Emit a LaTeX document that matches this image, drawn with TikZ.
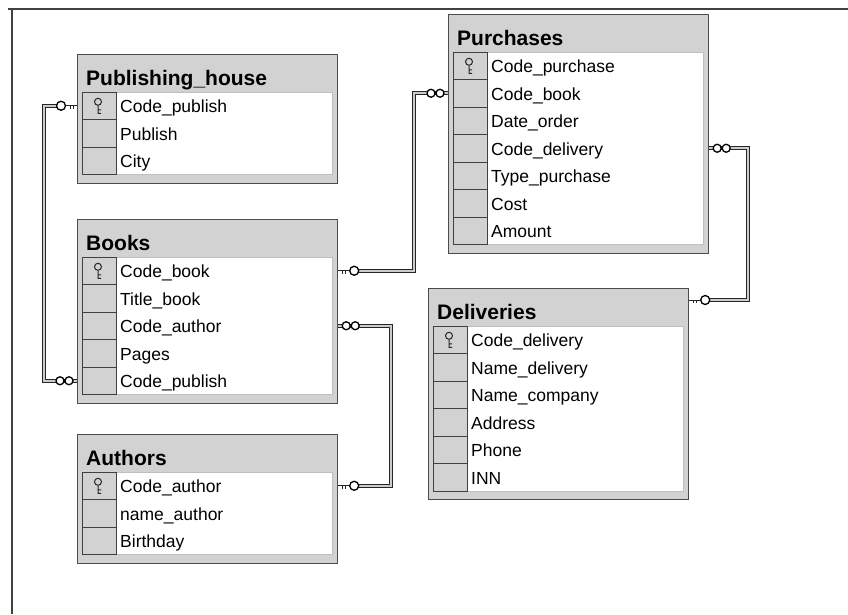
\documentclass[tikz,border=0pt]{standalone}
\usepackage{fontspec}
\setmainfont{Liberation Sans}
\begin{document}
\begin{tikzpicture}[x=1pt,y=-1pt,
  tbl/.style={draw=black!70,line width=1.2pt,fill=gray!35,inner sep=0pt,minimum width=260pt,anchor=north west},
  ttl/.style={anchor=base west,inner sep=0pt,font=\bfseries\fontsize{21}{24}\selectfont},
  fld/.style={anchor=west,inner sep=0pt,text height=14pt,text depth=0pt,font=\fontsize{17.5}{20}\selectfont},
  cell/.style={draw=black!75,line width=1pt,fill=gray!35},
  pane/.style={fill=white,draw=gray!50,line width=0.6pt},
  link/.style={draw=black!85,double=gray!40,line width=1.3pt,double distance=1.8pt},
  endring/.style={draw=black,fill=white,line width=1.3pt},
  keyicon/.style={draw=black!85,line width=1pt},
  frame/.style={draw=black!75,line width=1.6pt}]
\useasboundingbox (0,0) rectangle (848,614);
\draw[frame] (8,9) -- (848,9);
\draw[frame] (12,9) -- (12,614);

\node[tbl,minimum height=128.5pt] (pub) at (77,54) {};
\draw[pane] (116,92) rectangle (332,174.5);
\draw[cell] (82,92) rectangle (116,119.5);
\draw[cell] (82,119.5) rectangle (116,147);
\draw[cell] (82,147) rectangle (116,174.5);
\draw[keyicon,shift={(98,105.75)}] (0,-4) circle (3.5pt) (0,-0.5) -- (0,8) (0,4) -- (3,4) (0,7.5) -- (3,7.5);
\node[ttl] (pubtitle) at (86,85) {Publishing\_house};
\node[fld] (pubcode) at (120,105.75) {Code\_publish};
\node[fld] (pubname) at (120,133.25) {Publish};
\node[fld] (pubcity) at (120,160.75) {City};

\node[tbl,minimum height=183.5pt] (books) at (77,219) {};
\draw[pane] (116,257) rectangle (332,394.5);
\draw[cell] (82,257) rectangle (116,284.5);
\draw[cell] (82,284.5) rectangle (116,312);
\draw[cell] (82,312) rectangle (116,339.5);
\draw[cell] (82,339.5) rectangle (116,367);
\draw[cell] (82,367) rectangle (116,394.5);
\draw[keyicon,shift={(98,270.75)}] (0,-4) circle (3.5pt) (0,-0.5) -- (0,8) (0,4) -- (3,4) (0,7.5) -- (3,7.5);
\node[ttl] (bookstitle) at (86,250) {Books};
\node[fld] (bookscode) at (120,270.75) {Code\_book};
\node[fld] (booksname) at (120,298.25) {Title\_book};
\node[fld] (booksauth) at (120,325.75) {Code\_author};
\node[fld] (bookspages) at (120,353.25) {Pages};
\node[fld] (bookspub) at (120,380.75) {Code\_publish};

\node[tbl,minimum height=128.5pt] (auth) at (77,434) {};
\draw[pane] (116,472) rectangle (332,554.5);
\draw[cell] (82,472) rectangle (116,499.5);
\draw[cell] (82,499.5) rectangle (116,527);
\draw[cell] (82,527) rectangle (116,554.5);
\draw[keyicon,shift={(98,485.75)}] (0,-4) circle (3.5pt) (0,-0.5) -- (0,8) (0,4) -- (3,4) (0,7.5) -- (3,7.5);
\node[ttl] (authtitle) at (86,465) {Authors};
\node[fld] (authcode) at (120,485.75) {Code\_author};
\node[fld] (authname) at (120,513.25) {name\_author};
\node[fld] (authbirth) at (120,540.75) {Birthday};

\node[tbl,minimum height=238.5pt] (purch) at (448,14) {};
\draw[pane] (487,52) rectangle (703,244.5);
\draw[cell] (453,52) rectangle (487,79.5);
\draw[cell] (453,79.5) rectangle (487,107);
\draw[cell] (453,107) rectangle (487,134.5);
\draw[cell] (453,134.5) rectangle (487,162);
\draw[cell] (453,162) rectangle (487,189.5);
\draw[cell] (453,189.5) rectangle (487,217);
\draw[cell] (453,217) rectangle (487,244.5);
\draw[keyicon,shift={(469,65.75)}] (0,-4) circle (3.5pt) (0,-0.5) -- (0,8) (0,4) -- (3,4) (0,7.5) -- (3,7.5);
\node[ttl] (purchtitle) at (457,45) {Purchases};
\node[fld] (purchcode) at (491,65.75) {Code\_purchase};
\node[fld] (purchbook) at (491,93.25) {Code\_book};
\node[fld] (purchdate) at (491,120.75) {Date\_order};
\node[fld] (purchdeliv) at (491,148.25) {Code\_delivery};
\node[fld] (purchtype) at (491,175.75) {Type\_purchase};
\node[fld] (purchcost) at (491,203.25) {Cost};
\node[fld] (purchamount) at (491,230.75) {Amount};

\node[tbl,minimum height=211pt] (deliv) at (428,288) {};
\draw[pane] (467,326) rectangle (683,491);
\draw[cell] (433,326) rectangle (467,353.5);
\draw[cell] (433,353.5) rectangle (467,381);
\draw[cell] (433,381) rectangle (467,408.5);
\draw[cell] (433,408.5) rectangle (467,436);
\draw[cell] (433,436) rectangle (467,463.5);
\draw[cell] (433,463.5) rectangle (467,491);
\draw[keyicon,shift={(449,339.75)}] (0,-4) circle (3.5pt) (0,-0.5) -- (0,8) (0,4) -- (3,4) (0,7.5) -- (3,7.5);
\node[ttl] (delivtitle) at (437,319) {Deliveries};
\node[fld] (delivcode) at (471,339.75) {Code\_delivery};
\node[fld] (delivname) at (471,367.25) {Name\_delivery};
\node[fld] (delivcomp) at (471,394.75) {Name\_company};
\node[fld] (delivaddr) at (471,422.25) {Address};
\node[fld] (delivphone) at (471,449.75) {Phone};
\node[fld] (delivinn) at (471,477.25) {INN};

\coordinate (k1) at (pub.west |- pubcode);
\coordinate (m1) at (books.west |- bookspub);
\coordinate (k2) at (books.east |- bookscode);
\coordinate (m2) at (purch.west |- purchbook);
\coordinate (m3) at (purch.east |- purchdeliv);
\coordinate (k3) at ([yshift=-12pt]deliv.north east);
\coordinate (m4) at (books.east |- booksauth);
\coordinate (k4) at (auth.east |- authcode);

\draw[link] ([xshift=-16pt]k1) -- ++(-17,0) |- (m1);
\draw[link] ([xshift=16pt]k2) -- ++(60,0) |- (m2);
\draw[link] (m3) -- ++(39,0) |- ([xshift=16pt]k3);
\draw[link] (m4) -- ++(53,0) |- ([xshift=16pt]k4);

\draw[keyicon] (k1) -- ([xshift=-12pt]k1) ([xshift=-4pt]k1) -- ++(0,3) ([xshift=-7pt]k1) -- ++(0,3);
\draw[endring] ([xshift=-16pt]k1) circle (4.5pt);
\draw[keyicon] (k2) -- ([xshift=12pt]k2) ([xshift=4pt]k2) -- ++(0,3) ([xshift=7pt]k2) -- ++(0,3);
\draw[endring] ([xshift=16pt]k2) circle (4.5pt);
\draw[keyicon] (k3) -- ([xshift=12pt]k3) ([xshift=4pt]k3) -- ++(0,3) ([xshift=7pt]k3) -- ++(0,3);
\draw[endring] ([xshift=16pt]k3) circle (4.5pt);
\draw[keyicon] (k4) -- ([xshift=12pt]k4) ([xshift=4pt]k4) -- ++(0,3) ([xshift=7pt]k4) -- ++(0,3);
\draw[endring] ([xshift=16pt]k4) circle (4.5pt);

\draw[endring] ([xshift=-8pt]m1) circle (4pt) ([xshift=-17pt]m1) circle (4pt);
\draw[endring] ([xshift=-8pt]m2) circle (4pt) ([xshift=-17pt]m2) circle (4pt);
\draw[endring] ([xshift=8pt]m3) circle (4pt) ([xshift=17pt]m3) circle (4pt);
\draw[endring] ([xshift=8pt]m4) circle (4pt) ([xshift=17pt]m4) circle (4pt);
\end{tikzpicture}
\end{document}
